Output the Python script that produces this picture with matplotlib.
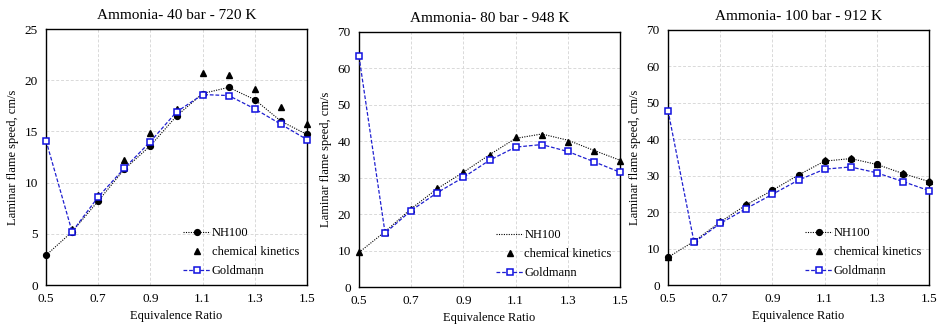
import numpy as np
import matplotlib
matplotlib.use("Agg")
import matplotlib.pyplot as plt

plt.rcParams['font.family'] = ['Liberation Serif', 'DejaVu Serif']

phi = [0.5, 0.6, 0.7, 0.8, 0.9, 1.0, 1.1, 1.2, 1.3, 1.4, 1.5]

# 40 bar - 720 K
nh100_40 = [2.9, 5.2, 8.2, 11.3, 13.6, 16.5, 18.7, 19.3, 18.1, 16.0, 14.7]
kin_40 = [None, 5.5, 8.8, 12.2, 14.8, 17.2, 20.7, 20.5, 19.1, 17.4, 15.7]
gold_40 = [14.1, 5.2, 8.6, 11.4, 14.0, 16.9, 18.6, 18.5, 17.2, 15.7, 14.2]

# 80 bar - 948 K
nh100_80 = [9.5, 15.2, 21.5, 27.0, 31.5, 36.3, 40.8, 42.0, 40.3, 37.5, 34.8]
kin_80 = [9.5, 15.0, 21.5, 27.2, 31.5, 36.1, 41.2, 41.7, 39.9, 37.3, 34.6]
gold_80 = [63.3, 14.8, 21.0, 25.9, 30.1, 34.8, 38.4, 39.1, 37.2, 34.4, 31.5]

# 100 bar - 912 K
nh100_100 = [7.6, 12.0, 17.3, 22.0, 26.0, 30.2, 34.0, 34.7, 33.1, 30.6, 28.4]
kin_100 = [7.8, 12.2, 17.5, 22.3, 26.2, 30.3, 34.3, 35.0, 33.3, 30.8, 28.5]
gold_100 = [47.9, 11.7, 16.9, 21.0, 24.9, 28.8, 31.8, 32.4, 30.8, 28.4, 25.9]

titles = ["Ammonia- 40 bar - 720 K", "Ammonia- 80 bar - 948 K", "Ammonia- 100 bar - 912 K"]
ylims = [(0, 25, 5), (0, 70, 10), (0, 70, 10)]
nh_marker = ['o', None, 'o']

fig = plt.figure(figsize=(9.41, 3.27), dpi=100)
W, H = 941, 327
boxes = [(46, 29, 307, 285), (359, 32, 620, 287), (668, 30, 929, 285)]

series = [(nh100_40, kin_40, gold_40), (nh100_80, kin_80, gold_80),
          (nh100_100, kin_100, gold_100)]

for k, (x0, y0, x1, y1) in enumerate(boxes):
    ax = fig.add_axes([x0 / W, 1 - y1 / H, (x1 - x0) / W, (y1 - y0) / H])
    nh, kin, gold = series[k]
    kin_x = [p for p, v in zip(phi, kin) if v is not None]
    kin_y = [v for v in kin if v is not None]
    ax.plot(phi, nh, color='black', ls=(0, (1, 1.2)), lw=0.8,
            marker=nh_marker[k], ms=4.2, label='NH100', zorder=3, clip_on=False)
    ax.plot(kin_x, kin_y, ls='none', marker='^', color='black', ms=5,
            label='chemical kinetics', zorder=4, clip_on=False)
    ax.plot(phi, gold, color='#1f1fd0', ls=(0, (3, 1.5)), lw=0.9,
            marker='s', ms=4.8, mfc='white', mec='#1010e0', mew=1.1,
            label='Goldmann', zorder=5, clip_on=False)
    lo, hi, st = ylims[k]
    ax.set_ylim(lo, hi)
    ax.set_yticks(np.arange(lo, hi + st / 2, st))
    ax.set_xlim(0.5, 1.5)
    ax.set_xticks([0.5, 0.7, 0.9, 1.1, 1.3, 1.5])
    ax.set_xticklabels(['0.5', '0.7', '0.9', '1.1', '1.3', '1.5'])
    ax.grid(True, color='#d9d9d9', ls=(0, (3, 2)), lw=0.7)
    ax.set_axisbelow(True)
    ax.tick_params(labelsize=9.5, length=0, pad=6)
    for s in ax.spines.values():
        s.set_linewidth(1.0)
        s.set_color('black')
    ax.set_title(titles[k], fontsize=11, pad=7)
    ax.set_xlabel('Equivalence Ratio', fontsize=9, labelpad=3)
    ax.set_ylabel('Laminar flame speed, cm/s', fontsize=9, labelpad=4)
    ax.legend(loc='lower right', frameon=False, fontsize=9,
              handlelength=2.1, handletextpad=0.15, labelspacing=0.55,
              borderaxespad=0.25)

fig.savefig('out.png', dpi=100)
